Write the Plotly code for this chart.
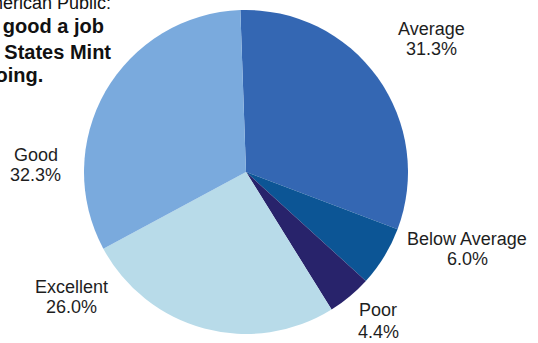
import plotly.graph_objects as go

# Survey results: how the public rates the job the Mint is doing
categories = ["Average", "Below Average", "Poor", "Excellent", "Good"]
shares = [31.3, 6.0, 4.4, 26.0, 32.3]
slice_colors = ["#3467b3", "#0c5595", "#28236b", "#b8dbe9", "#7aaadd"]

title_lines = ["The American Public:", "How good a job", "the United States Mint", "is doing."]

W, H = 538, 343
FONT = "Liberation Sans, Arial, sans-serif"

fig = go.Figure(
    go.Pie(
        labels=categories,
        values=shares,
        sort=False,
        direction="clockwise",
        rotation=-2,
        marker=dict(colors=slice_colors, line=dict(width=0)),
        textinfo="none",
        hoverinfo="label+percent",
        showlegend=False,
        domain=dict(x=[(246 - 162) / W, (246 + 162) / W],
                    y=[(H - 334) / H, (H - 10) / H]),
    )
)


def px(x, y):
    return x / W, 1 - y / H


# Outside labels: category name above its percentage
label_spots = {
    "Average": (431, 28.5, 48.5),
    "Below Average": (467, 238.5, 258.5),
    "Poor": (378, 309.5, 331.5),
    "Excellent": (71, 286.5, 306.5),
    "Good": (35.5, 154.5, 174.5),
}
annotations = []
for name, val in zip(categories, shares):
    cx, y1, y2 = label_spots[name]
    for txt, yy in ((name, y1), (f"{val:.1f}%", y2)):
        x, y = px(cx, yy)
        annotations.append(dict(
            x=x, y=y, xref="paper", yref="paper", text=txt, showarrow=False,
            xanchor="center", yanchor="middle",
            font=dict(family=FONT, size=18, color="#1e1e1e"),
        ))

# Heading block in the upper left, right-aligned line by line
title_spots = [(113, 3, False), (106, 26, True), (113, 52, True), (45, 74.5, True)]
for line, (rx, cy, bold) in zip(title_lines, title_spots):
    x, y = px(rx, cy)
    annotations.append(dict(
        x=x, y=y, xref="paper", yref="paper",
        text=f"<b>{line}</b>" if bold else line, showarrow=False,
        xanchor="right", yanchor="middle",
        font=dict(family=FONT, size=20 if bold else 18, color="#111111"),
    ))

fig.update_layout(
    width=W, height=H,
    margin=dict(l=0, r=0, t=0, b=0),
    paper_bgcolor="white", plot_bgcolor="white",
    annotations=annotations,
)

fig.write_html("out.html")
